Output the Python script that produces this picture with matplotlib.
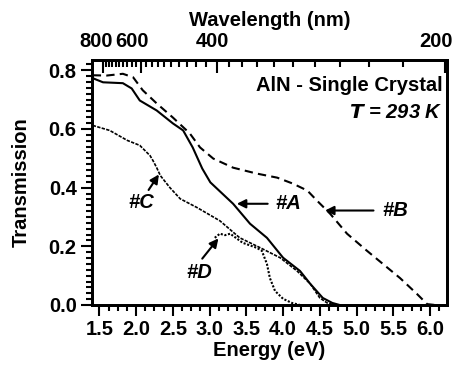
import numpy as np
import matplotlib
matplotlib.use("Agg")
import matplotlib.pyplot as plt
from matplotlib.ticker import MultipleLocator, FixedLocator, NullFormatter

# ---- data ----
energy_A = [1.41, 1.55, 1.82, 1.94, 2.05, 2.28, 2.50, 2.64, 2.77, 2.90, 3.01, 3.32, 3.55, 3.78, 4.00, 4.23, 4.37, 4.54, 4.67, 4.77]
trans_A = [0.773, 0.759, 0.756, 0.738, 0.697, 0.663, 0.619, 0.595, 0.537, 0.465, 0.418, 0.345, 0.277, 0.229, 0.161, 0.116, 0.072, 0.024, 0.007, 0.0]

energy_B = [1.41, 1.60, 1.82, 1.96, 2.09, 2.28, 2.50, 2.73, 2.87, 3.05, 3.32, 3.64, 3.92, 4.13, 4.33, 4.46, 4.64, 4.87, 5.14, 5.59, 5.82, 5.96, 6.07]
trans_B = [0.783, 0.782, 0.788, 0.776, 0.732, 0.687, 0.639, 0.585, 0.537, 0.499, 0.468, 0.448, 0.434, 0.414, 0.390, 0.356, 0.311, 0.243, 0.185, 0.092, 0.038, 0.003, 0.0]

energy_C = [1.41, 1.64, 1.88, 2.05, 2.19, 2.23, 2.28, 2.33, 2.46, 2.60, 2.83, 3.14, 3.41, 3.69, 3.96, 4.19, 4.37, 4.50, 4.60, 4.71]
trans_C = [0.612, 0.595, 0.561, 0.544, 0.509, 0.492, 0.468, 0.441, 0.400, 0.362, 0.332, 0.287, 0.229, 0.195, 0.161, 0.116, 0.072, 0.024, 0.007, 0.0]

energy_D = [3.07, 3.14, 3.21, 3.28, 3.45, 3.64, 3.71, 3.78, 3.82, 3.89, 4.00, 4.12, 4.23]
trans_D = [0.229, 0.243, 0.238, 0.243, 0.212, 0.195, 0.185, 0.140, 0.092, 0.048, 0.021, 0.007, 0.0]

energy_major = [1.5, 2.0, 2.5, 3.0, 3.5, 4.0, 4.5, 5.0, 5.5, 6.0]
trans_major = [0.0, 0.2, 0.4, 0.6, 0.8]
wavelength_major = [800, 600, 400, 200]
wavelength_minor = list(range(200, 820, 20))

FS = 14.5
plt.rcParams['font.family'] = ['Liberation Sans', 'DejaVu Sans']
plt.rcParams['font.weight'] = 'bold'

fig = plt.figure(figsize=(4.67, 3.73), dpi=100)
ax = fig.add_axes([92/467, 1-305/373, 355/467, 245/373])

ax.plot(energy_A, trans_A, color='k', lw=1.5, ls='-')
ax.plot(energy_B, trans_B, color='k', lw=1.5, ls=(0, (4, 2.5)))
ax.plot(energy_C, trans_C, color='k', lw=1.2, ls=(0, (2, 0.8)))
ax.plot(energy_D, trans_D, color='k', lw=1.5, ls=(0, (1, 0.8)))

xlim = (1.40, 6.23)
ax.set_xlim(*xlim)
ax.set_ylim(0, 0.835)

ax.set_xticks(energy_major)
ax.set_xticklabels([f"{v:.1f}" for v in energy_major], fontsize=FS, fontweight='bold')
ax.xaxis.set_minor_locator(MultipleLocator(0.125))
ax.set_yticks(trans_major)
ax.set_yticklabels([f"{v:.1f}" for v in trans_major], fontsize=FS, fontweight='bold')
ax.yaxis.set_minor_locator(MultipleLocator(0.02))

ax.tick_params(which='both', direction='out', top=False, right=False, width=1.5)
ax.tick_params(which='major', length=8, pad=3)
ax.tick_params(which='minor', length=4)
for s in ax.spines.values():
    s.set_linewidth(2)

ax.set_xlabel('Energy (eV)', fontsize=FS, fontweight='bold', labelpad=1)
ax.set_ylabel('Transmission', fontsize=FS, fontweight='bold', labelpad=13)

# top wavelength axis
top = ax.twiny()
top.set_xlim(*xlim)
top.set_xticks([1240.0 / w for w in wavelength_major])
top.xaxis.set_major_formatter(NullFormatter())
top.xaxis.set_minor_locator(FixedLocator([1240.0 / w for w in wavelength_minor]))
top.tick_params(which='both', direction='in', width=1.5, pad=3)
top.tick_params(which='major', length=9)
top.tick_params(which='minor', length=5)
for s in top.spines.values():
    s.set_linewidth(2)

label_shift = [-7, -9, -5, -9]
for w, dx in zip(wavelength_major, label_shift):
    top.annotate(str(w), xy=(1240.0 / w, 1.0), xycoords=('data', 'axes fraction'),
                 xytext=(dx, 13), textcoords='offset pixels', ha='center', va='baseline',
                 fontsize=FS, fontweight='bold', annotation_clip=False)
fig.text(0.5 * (92 + 447) / 467, 1 - 21 / 373, 'Wavelength (nm)', ha='center', va='center',
         fontsize=FS, fontweight='bold')

# annotations
ax.text(6.17, 0.749, 'AlN - Single Crystal', ha='right', va='center', fontsize=FS, fontweight='bold')
ax.text(6.17, 0.656, '$\\bfit{T}$ = 293 K', ha='right', va='center', fontsize=FS, fontweight='bold', style='italic')

arrow = dict(arrowstyle='-|>', lw=1.5, color='k', mutation_scale=13, shrinkA=0, shrinkB=0)
labels = [('#A', (4.07, 0.345), (3.79, 0.345), (3.37, 0.345)),
          ('#B', (5.53, 0.322), (5.23, 0.322), (4.57, 0.322)),
          ('#C', (2.07, 0.348), (2.17, 0.392), (2.31, 0.445)),
          ('#D', (2.86, 0.110), (2.90, 0.158), (3.12, 0.227))]
for txt, tpos, tail, head in labels:
    ax.text(*tpos, txt, ha='center', va='center', fontsize=FS, fontweight='bold', style='italic')
    ax.annotate('', xy=head, xytext=tail, arrowprops=arrow)

fig.savefig('out.png', dpi=100)
